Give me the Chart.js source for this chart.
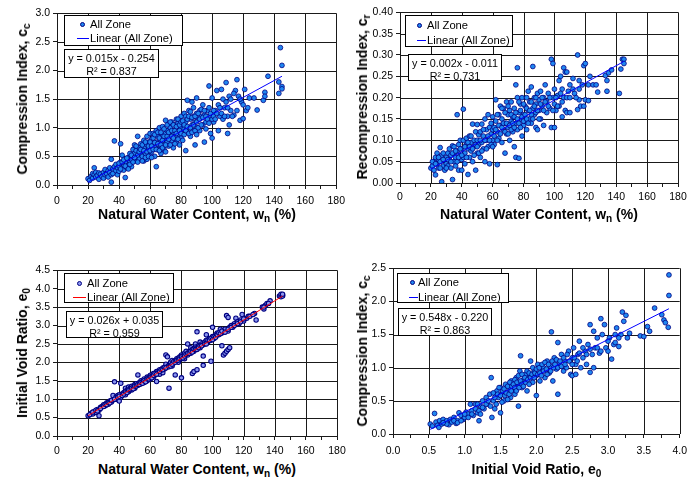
<!DOCTYPE html>
<html>
<head>
<meta charset="utf-8">
<script src="https://cdn.jsdelivr.net/npm/chart.js@4.4.1/dist/chart.umd.min.js"></script>
<style>
  body { margin: 0; background: #fff; }
  #page { position: relative; width: 697px; height: 477px; overflow: hidden; font-family: "Liberation Sans", Arial, sans-serif; }
  canvas { position: absolute; }
  .ttl { position: absolute; font-weight: bold; font-size: 14px; white-space: nowrap; color: #000; }
  .ttl sub { font-size: 0.72em; vertical-align: -0.3em; line-height: 0; }
  .ytl { transform: translate(-50%, -50%) rotate(-90deg); }
  .xtl { transform: translate(-50%, -50%); }
  .box { position: absolute; background: #fff; border: 1px solid #000; font-size: 11.2px; color: #000; box-sizing: border-box; }
  .row { position: absolute; white-space: nowrap; line-height: 12px; }
  .dot { position: absolute; width: 5px; height: 5px; border-radius: 50%; box-sizing: border-box; border: 1px solid #000080; }
  .seg { position: absolute; height: 1px; }
  .eq { text-align: center; line-height: 12.5px; padding-top: 2px; font-size: 10.8px; }
</style>
</head>
<body>
<div id="page"></div>
<script>
// values: [x, y]
const ccVsWn = [
  [20,0.11],[21,0.08],[22,0.15],[23,0.12],[23,0.2],[24,0.18],[24,0.3],[25,0.14],[25,0.22],[26,0.17],[27,0.1],[27,0.21],[28,0.19],[29,0.15],[30,0.22],[30,0.12],
  [31,0.18],[31,0.27],[32,0.2],[33,0.14],[33,0.25],[34,0.22],[34,0.3],[35,0.05],[35,0.45],[35,0.18],[36,0.28],[36,0.2],[37,0.77],[37,0.32],[38,0.25],[38,0.36],[39,0.3],[39,0.18],[40,0.33],[40,0.24],
  [41,0.72],[41,0.4],[42,0.52],[42,0.3],[43,0.35],[43,0.26],[44,0.42],[44,0.13],[45,0.38],[45,0.3],[46,0.48],[46,0.35],[47,0.4],[47,0.55],[48,0.45],[48,0.32],[49,0.5],[49,0.62],[50,0.42],[50,0.55],[50,0.7],
  [51,0.48],[51,0.6],[52,0.85],[52,0.52],[53,0.45],[53,0.65],[54,0.55],[54,0.72],[55,0.5],[55,0.6],[56,0.78],[56,0.42],[57,0.66],[57,0.55],[58,0.7],[58,0.85],[58,0.45],[59,0.62],[59,0.75],[60,0.68],[60,0.9],[60,0.52],
  [61,0.58],[61,0.8],[62,0.72],[62,0.9],[63,0.65],[63,0.5],[64,0.95],[64,0.32],[64,0.75],[65,0.85],[65,0.62],[66,0.7],[66,1.0],[67,0.78],[67,0.55],[68,0.88],[68,1.02],[69,0.72],[69,0.62],[70,1.13],[70,0.9],[70,0.8],
  [71,0.75],[71,0.95],[72,1.05],[72,0.68],[73,0.88],[73,1.0],[74,0.78],[74,1.1],[75,0.92],[75,0.65],[76,1.05],[76,0.85],[77,1.15],[77,0.75],[78,0.95],[78,1.08],[79,0.88],[79,0.7],[80,1.0],[80,1.2],[80,0.82],
  [81,1.05],[81,0.9],[82,1.25],[82,0.98],[83,0.6],[83,1.1],[84,1.48],[84,0.92],[85,1.3],[85,1.0],[86,1.15],[86,0.85],[87,1.45],[87,1.05],[88,1.2],[88,0.95],[89,0.7],[89,1.1],[90,1.52],[90,1.25],[90,1.0],
  [91,1.15],[92,1.3],[92,0.95],[93,1.2],[94,1.4],[94,1.05],[95,0.75],[95,1.22],[96,1.1],[97,1.3],[98,1.73],[98,1.2],[99,0.9],[100,0.82],[100,1.25],[100,1.52],
  [101,1.1],[102,1.3],[103,1.65],[104,0.95],[104,1.4],[105,1.2],[106,1.67],[107,1.5],[107,1.15],[108,1.35],[109,1.79],[109,1.45],[110,0.9],[110,1.2],[111,1.05],[111,1.55],[112,1.3],[114,1.22],[115,1.65],[116,1.84],[116,1.3],[117,1.55],[118,1.13],[119,1.45],[120,1.16],[121,1.67],[122,1.3],[123,1.35],[124,1.52],
  [127,1.52],[129,1.31],[133,1.48],[134,1.62],[134,1.55],[136,1.9],[143,1.6],[143,1.8],[144,2.4],[145,2.09],[145,1.72],[145,1.68],
  [40,0.38],[41,0.28],[42,0.4],[43,0.44],[44,0.33],[45,0.47],[46,0.28],[47,0.36],[48,0.52],[49,0.4],[50,0.48],
  [51,0.68],[52,0.4],[53,0.58],[54,0.62],[55,0.7],[55,0.42],[56,0.6],[57,0.48],[57,0.75],[58,0.58],[59,0.5],[59,0.68],[60,0.6],[60,0.75],
  [61,0.68],[61,0.48],[62,0.62],[62,0.82],[63,0.74],[63,0.88],[64,0.62],[65,0.72],[65,0.92],[66,0.6],[66,0.82],[67,0.7],[67,0.92],[68,0.65],[68,0.78],[69,0.85],[69,0.98],[70,0.7],[70,0.58],
  [71,0.85],[71,1.05],[72,0.8],[72,0.92],[73,0.7],[73,1.1],[74,0.95],[74,0.85],[75,0.82],[75,1.05],[76,0.72],[76,0.95],[77,0.9],[77,1.02],[78,0.8],[78,1.15],[79,0.95],[79,1.05],[80,0.9],[80,1.1],
  [81,1.12],[81,0.78],[82,1.05],[82,0.88],[83,0.95],[83,1.2],[84,1.02],[84,1.15],[85,0.9],[85,1.2],[86,1.0],[86,1.28],[87,0.92],[87,1.18],[88,1.05],[88,1.35],[89,0.95],[89,1.2],[90,1.1],[90,0.88],
  [91,1.25],[91,1.0],[92,1.15],[93,1.05],[93,1.32],[94,1.18],[95,1.3],[96,1.2],[96,0.98],[97,1.15],[98,1.08],[98,1.35],[99,1.25],[100,1.15],[101,1.3],[101,1.2],[102,1.15],[103,1.25],[105,1.35],[106,1.25],[108,1.2],[110,1.35],[112,1.5],[113,1.2],[114,1.6],[118,1.5],[120,1.4]
];
const crVsWn = [
  [20,0.035],[21,0.04],[22,0.05],[22,0.03],[23,0.019],[23,0.06],[24,0.045],[24,0.07],[25,0.055],[25,0.035],[26,0.083],[26,0.05],[27,0.003],[27,0.065],[28,0.04],[28,0.07],[29,0.055],[29,0.03],[30,0.06],[30,0.045],
  [31,0.07],[31,0.04],[32,0.055],[32,0.08],[33,0.035],[33,0.065],[34,0.008],[34,0.087],[35,0.05],[35,0.07],[36,0.06],[36,0.04],[37,0.16],[37,0.075],[38,0.09],[38,0.03],[39,0.065],[39,0.1],[40,0.03],[40,0.08],[40,0.055],
  [41,0.173],[41,0.1],[42,0.07],[42,0.045],[43,0.09],[43,0.105],[44,0.02],[44,0.08],[45,0.06],[45,0.11],[46,0.095],[46,0.075],[47,0.138],[47,0.05],[48,0.1],[48,0.085],[49,0.03],[49,0.12],[50,0.137],[50,0.07],[50,0.1],
  [51,0.09],[51,0.113],[52,0.06],[52,0.12],[53,0.138],[53,0.095],[54,0.08],[54,0.11],[55,0.15],[55,0.05],[56,0.125],[56,0.1],[57,0.16],[57,0.085],[58,0.13],[58,0.045],[59,0.115],[59,0.14],[60,0.1],[60,0.155],[60,0.125],
  [61,0.13],[61,0.09],[62,0.195],[62,0.145],[63,0.043],[63,0.12],[64,0.16],[64,0.105],[65,0.18],[65,0.135],[66,0.15],[66,0.095],[67,0.175],[67,0.125],[68,0.07],[68,0.14],[69,0.19],[69,0.115],[70,0.16],[70,0.13],
  [71,0.1],[71,0.17],[72,0.145],[72,0.19],[73,0.12],[73,0.155],[74,0.085],[74,0.175],[75,0.06],[75,0.23],[75,0.14],[76,0.27],[76,0.2],[76,0.125],[77,0.058],[77,0.165],[78,0.185],[78,0.15],[79,0.11],[79,0.2],[80,0.16],[80,0.135],
  [81,0.18],[81,0.145],[82,0.2],[82,0.125],[83,0.17],[83,0.215],[84,0.15],[84,0.19],[85,0.14],[85,0.225],[86,0.273],[86,0.175],[87,0.16],[87,0.2],[88,0.13],[88,0.185],[89,0.125],[89,0.21],[90,0.17],[90,0.195],
  [91,0.15],[91,0.215],[92,0.18],[93,0.135],[93,0.2],[94,0.23],[95,0.165],[95,0.19],[96,0.21],[97,0.175],[98,0.29],[98,0.13],[99,0.28],[99,0.2],[100,0.13],[100,0.185],[100,0.22],
  [101,0.17],[102,0.205],[103,0.24],[103,0.18],[104,0.25],[105,0.155],[105,0.22],[106,0.27],[106,0.2],[107,0.26],[107,0.17],[108,0.26],[108,0.165],[109,0.215],[110,0.165],[110,0.23],[112,0.245],[113,0.21],[115,0.3],[115,0.172],[116,0.24],[116,0.195],[117,0.18],[118,0.23],[119,0.275],[119,0.18],[120,0.28],[120,0.195],
  [122,0.193],[122,0.23],[123,0.25],[125,0.23],[127,0.23],[128,0.213],[133,0.252],[134,0.24],[134,0.215],[135,0.258],[137,0.265],[142,0.21],[143,0.267],[144,0.29],[145,0.29],[145,0.28],
  [41,0.06],[42,0.085],[43,0.06],[44,0.095],[45,0.085],[46,0.11],[47,0.08],[48,0.065],[49,0.09],[50,0.085],[51,0.07],[52,0.1],[53,0.075],[54,0.125],[55,0.1],[56,0.08],[57,0.11],[58,0.1],[59,0.09],[60,0.085],
  [61,0.11],[62,0.125],[63,0.1],[63,0.16],[64,0.135],[65,0.115],[66,0.13],[66,0.175],[67,0.14],[68,0.12],[68,0.165],[69,0.14],[70,0.115],[70,0.18],[71,0.135],[72,0.125],[72,0.16],[73,0.14],[74,0.155],[74,0.13],[75,0.165],[76,0.15],[77,0.14],[77,0.19],[78,0.13],[78,0.17],[79,0.155],[80,0.145],[80,0.185],
  [81,0.16],[82,0.175],[82,0.15],[83,0.14],[84,0.17],[85,0.16],[85,0.19],[86,0.15],[87,0.18],[88,0.165],[88,0.2],[89,0.17],[90,0.15],[91,0.185],[92,0.2],[93,0.17],[94,0.19],[96,0.18],[97,0.2],[99,0.17],
  [101,0.2],[102,0.18],[104,0.21],[105,0.19],[108,0.2],[110,0.2],[112,0.22],[114,0.2],[116,0.22],
  [21,0.05],[23,0.045],[25,0.06],[26,0.035],[28,0.055],[30,0.035],[31,0.055],[33,0.05],[34,0.07],[35,0.085],[36,0.075],[37,0.05],[38,0.06],[39,0.08],[40,0.065]
];
const e0VsWn = [
  [20,0.55],[22,0.62],[23,0.6],[24,0.66],[25,0.64],[26,0.72],[27,0.55],[27,0.7],[28,0.78],[29,0.8],[30,0.85],[31,0.82],[32,0.9],[33,0.86],[34,0.95],[35,0.92],[36,1.1],[36,0.98],[37,1.47],[38,1.0],[38,1.06],[39,1.1],[40,0.95],[40,1.12],
  [41,1.43],[41,1.05],[42,1.15],[43,1.18],[44,1.3],[44,1.12],[45,1.25],[46,1.2],[46,1.33],[47,1.3],[48,1.25],[48,1.35],[49,1.32],[50,1.4],[50,1.3],
  [51,1.42],[52,1.38],[52,1.66],[53,1.45],[54,1.5],[54,1.42],[55,1.48],[56,1.55],[56,1.45],[57,1.52],[58,1.6],[58,1.5],[59,1.58],[60,1.65],[60,1.55],
  [61,1.62],[62,1.7],[62,1.6],[63,1.66],[64,1.48],[64,1.75],[65,1.7],[65,1.76],[66,1.68],[66,1.8],[67,1.78],[68,1.85],[68,1.72],[69,1.82],[70,1.95],[70,2.2],
  [71,1.88],[71,2.15],[72,1.3],[72,1.92],[73,1.95],[73,2.0],[74,1.9],[74,2.05],[75,1.98],[76,1.66],[76,2.05],[77,2.1],[78,2.0],[78,2.12],[79,2.15],[80,1.58],[80,2.2],[80,2.1],
  [81,2.18],[82,2.25],[82,2.1],[83,2.3],[84,2.2],[84,2.5],[85,2.3],[86,2.25],[86,2.4],[87,1.7],[87,2.35],[88,1.75],[88,2.3],[89,2.5],[89,2.42],[90,1.8],[90,2.4],[90,2.83],
  [91,2.45],[92,2.4],[92,2.55],[93,2.5],[94,1.92],[94,2.17],[94,2.48],[95,2.55],[96,2.6],[96,2.75],[97,2.55],[98,2.65],[99,2.03],[99,2.6],[100,2.7],[100,2.95],
  [101,2.65],[102,2.75],[103,2.8],[104,2.75],[105,2.9],[106,2.45],[106,2.8],[107,2.2],[107,2.85],[108,2.25],[108,2.9],[109,2.3],[109,3.27],[110,2.35],[110,3.22],[110,2.85],
  [111,2.4],[111,2.95],[112,3.0],[113,2.95],[114,3.05],[115,3.2],[116,3.1],[117,3.05],[118,3.15],[119,3.3],[120,3.12],[122,3.2],[123,3.25],[127,3.33],[128,3.15],
  [132,3.5],[133,3.45],[134,3.55],[135,3.6],[137,3.67],[143,3.8],[144,3.78],[144,3.85],[145,3.82],[145,3.8],
  [21,0.58],[23,0.65],[25,0.7],[26,0.68],[28,0.75],[30,0.8],[31,0.86],[32,0.85],[33,0.9],[34,0.9],[35,0.97],[37,1.0],[39,1.05],[40,1.08],[42,1.1],[43,1.14],[44,1.2],[45,1.18],[46,1.25],[47,1.26],[48,1.3],[49,1.28],[50,1.36],
  [51,1.36],[52,1.4],[53,1.4],[54,1.45],[55,1.43],[56,1.5],[57,1.47],[58,1.55],[59,1.55],[60,1.6],[61,1.58],[62,1.65],[63,1.7],[64,1.68],[66,1.75],[67,1.8],[68,1.8],[69,1.86],[70,1.85],
  [72,1.88],[73,1.9],[74,1.95],[75,2.02],[76,2.0],[77,2.05],[78,2.06],[79,2.1],[80,2.15],[81,2.12],[82,2.17],[83,2.22],[84,2.25],[85,2.25],[86,2.3],[87,2.28],[88,2.36],[89,2.35],[90,2.35],
  [91,2.4],[92,2.45],[93,2.45],[95,2.5],[96,2.5],[97,2.6],[98,2.6],[99,2.65],[100,2.62],[101,2.7],[102,2.68],[103,2.75],[104,2.8],[105,2.78],[106,2.85],[108,2.82],[110,2.9],
  [112,2.95],[114,3.0],[116,3.05],[118,3.1],[120,3.18],[124,3.25],[126,3.3],[133,3.5],[136,3.6],[145,3.85]
];
const ccVsE0 = [
  [0.52,0.15],[0.55,0.12],[0.58,0.31],[0.6,0.18],[0.62,0.13],[0.64,0.1],[0.65,0.2],[0.68,0.15],[0.7,0.22],[0.72,0.17],[0.75,0.2],[0.78,0.14],[0.8,0.22],[0.82,0.18],[0.85,0.25],[0.88,0.16],[0.9,0.2],[0.92,0.32],[0.95,0.28],[0.98,0.22],
  [1.0,0.25],[1.02,0.33],[1.05,0.3],[1.08,0.45],[1.1,0.35],[1.12,0.28],[1.15,0.38],[1.18,0.32],[1.2,0.2],[1.22,0.42],[1.25,0.5],[1.27,0.38],[1.3,0.55],[1.32,0.45],[1.35,0.6],[1.37,0.85],[1.38,0.25],[1.4,0.5],[1.42,0.38],[1.45,0.65],[1.47,0.55],
  [1.5,0.32],[1.5,0.7],[1.52,0.6],[1.55,0.5],[1.57,0.75],[1.6,0.62],[1.62,0.7],[1.64,0.55],[1.65,0.8],[1.68,0.68],[1.7,0.6],[1.72,0.85],[1.75,0.42],[1.75,0.75],[1.77,0.95],[1.78,1.18],[1.8,0.7],[1.82,0.82],[1.85,0.9],[1.87,0.65],[1.9,0.85],[1.92,1.1],[1.95,0.78],[1.97,0.95],
  [2.0,0.58],[2.0,0.88],[2.02,1.05],[2.05,0.8],[2.08,0.95],[2.1,1.0],[2.12,0.85],[2.15,1.1],[2.18,0.92],[2.2,1.02],[2.21,1.54],[2.23,0.8],[2.25,1.15],[2.28,0.98],[2.3,0.6],[2.3,1.38],[2.32,1.05],[2.35,1.2],[2.38,0.95],[2.4,1.1],[2.42,1.0],[2.45,1.25],[2.48,0.9],
  [2.5,0.88],[2.5,1.15],[2.52,1.3],[2.55,0.9],[2.55,1.05],[2.58,1.2],[2.6,1.4],[2.62,1.0],[2.65,1.15],[2.68,1.25],[2.7,1.05],[2.72,1.35],[2.75,0.93],[2.75,1.65],[2.78,1.2],[2.8,1.0],[2.8,1.55],[2.82,1.3],[2.85,1.45],[2.88,1.22],[2.9,1.74],[2.92,1.5],[2.95,1.65],[2.97,1.3],
  [3.0,1.25],[3.02,1.45],[3.05,1.13],[3.08,1.35],[3.1,1.38],[3.12,1.6],[3.15,1.32],[3.18,1.5],[3.2,1.84],[3.22,1.7],[3.25,1.79],[3.27,1.45],[3.3,1.52],[3.45,1.48],[3.5,1.47],[3.55,1.62],[3.58,1.55],[3.65,1.9],[3.75,1.8],[3.78,1.72],[3.8,1.68],[3.84,1.61],[3.85,2.09],[3.85,2.4],
  [1.3,0.45],[1.33,0.5],[1.36,0.42],[1.4,0.62],[1.42,0.55],[1.44,0.45],[1.46,0.6],[1.48,0.7],[1.5,0.58],[1.52,0.48],[1.53,0.65],[1.55,0.68],[1.56,0.58],[1.58,0.62],[1.6,0.72],[1.6,0.52],[1.62,0.6],[1.63,0.78],[1.65,0.65],[1.66,0.72],
  [1.68,0.75],[1.7,0.7],[1.7,0.82],[1.72,0.65],[1.73,0.78],[1.75,0.88],[1.76,0.7],[1.78,0.8],[1.8,0.9],[1.8,0.75],[1.82,0.72],[1.84,0.85],[1.85,0.78],[1.87,0.95],[1.88,0.82],[1.9,0.75],[1.9,0.92],[1.92,0.85],[1.94,0.9],[1.95,1.0],
  [1.97,0.85],[1.98,0.92],[2.0,0.98],[2.02,0.9],[2.04,1.0],[2.05,0.92],[2.07,0.88],[2.08,1.05],[2.1,0.95],[2.12,1.08],[2.14,0.98],[2.15,0.9],[2.17,1.05],[2.2,0.95],[2.22,1.1],[2.24,1.0],[2.26,1.05],[2.28,1.12],[2.3,1.0],
  [2.33,1.1],[2.35,1.02],[2.38,1.15],[2.4,1.05],[2.43,1.2],[2.46,1.1],[2.5,1.05],[2.53,1.15],[2.57,1.1],[2.6,1.22],[2.65,1.3],[2.7,1.2],[2.75,1.28],[2.85,1.3],[2.9,1.25],[3.0,1.4],[3.1,1.5],[3.15,1.45],
  [1.0,0.3],[1.05,0.25],[1.1,0.3],[1.15,0.45],[1.2,0.35],[1.25,0.4],[1.18,0.45],[1.22,0.3],[0.85,0.2],[0.9,0.17],[0.95,0.2],[0.75,0.15],[0.7,0.17]
];
// trend line end points as drawn in the picture
const trendCcWn = [[20,0.05],[145,1.9]];
const trendCrWn = [[20,0.033],[145,0.285]];
const trendE0Wn = [[20,0.55],[145,3.8]];
const trendCcE0 = [[0.52,0.07],[3.85,1.89]];
// tick settings
const wnTicks = { min: 0, max: 180, step: 10, labelEvery: 2, dec: 0 };
const e0Ticks = { min: 0, max: 4, step: 0.25, labelEvery: 2, dec: 1 };

const page = document.getElementById('page');
const FONT = '"Liberation Sans", Arial, sans-serif';
const GRID = '#1a1a1a';

// major grid + frame, drawn from the scales' own ticks
const plotGrid = {
  id: 'plotGrid',
  beforeDatasetsDraw(chart, args, opts) {
    const { ctx, chartArea: a, scales } = chart;
    ctx.save();
    ctx.strokeStyle = GRID;
    ctx.lineWidth = 1;
    ctx.beginPath();
    scales.x.ticks.forEach((t, i) => {
      if (i % opts.every) return;
      const px = Math.round(scales.x.getPixelForValue(t.value)) + 0.5;
      ctx.moveTo(px, a.top); ctx.lineTo(px, a.bottom);
    });
    scales.y.ticks.forEach(t => {
      const py = Math.round(scales.y.getPixelForValue(t.value)) + 0.5;
      ctx.moveTo(a.left, py); ctx.lineTo(a.right, py);
    });
    ctx.stroke();
    ctx.restore();
  }
};

function addHtml(cls, style, html) {
  const d = document.createElement('div');
  d.className = cls;
  Object.assign(d.style, style);
  d.innerHTML = html;
  page.appendChild(d);
  return d;
}

function makePanel(p) {
  const padL = 48, padT = 8, padR = 14, padB = 24;
  const w = p.area.r - p.area.l + padL + padR;
  const h = p.area.b - p.area.t + padT + padB;
  const cv = document.createElement('canvas');
  cv.width = w; cv.height = h;
  cv.style.left = (p.area.l - padL) + 'px';
  cv.style.top = (p.area.t - padT) + 'px';
  page.appendChild(cv);

  new Chart(cv, {
    type: 'scatter',
    plugins: [plotGrid],
    data: {
      datasets: [
        {
          type: 'line',
          data: p.trend.map(d => ({ x: d[0], y: d[1] })),
          borderColor: p.lineColor,
          borderWidth: 1,
          pointRadius: 0,
          fill: false
        },
        {
          data: p.points.map(d => ({ x: d[0], y: d[1] })),
          backgroundColor: p.fill,
          borderColor: '#000080',
          borderWidth: p.ring,
          pointRadius: p.radius
        }
      ]
    },
    options: {
      responsive: false,
      animation: false,
      devicePixelRatio: 1,
      layout: { padding: { left: 0, top: padT, right: padR, bottom: 0 } },
      plugins: { legend: { display: false }, tooltip: { enabled: false }, plotGrid: { every: p.xt.labelEvery } },
      scales: {
        x: {
          type: 'linear',
          min: p.xt.min, max: p.xt.max,
          afterFit: s => { s.height = padB; },
          afterBuildTicks: s => {
            const t = [];
            const n = Math.round((p.xt.max - p.xt.min) / p.xt.step);
            for (let i = 0; i <= n; i++) t.push({ value: p.xt.min + i * p.xt.step });
            s.ticks = t;
          },
          ticks: {
            autoSkip: false, maxRotation: 0, padding: p.xPad, color: '#000',
            font: { family: FONT, size: 10.5 },
            callback: (v, i) => i % p.xt.labelEvery === 0 ? Number(v).toFixed(p.xt.dec) : ''
          },
          grid: { drawOnChartArea: false, tickColor: GRID, tickLength: 4 },
          border: { color: GRID, width: 1 }
        },
        y: {
          min: p.yt.min, max: p.yt.max,
          afterFit: s => { s.width = padL; },
          ticks: {
            stepSize: p.yt.step, padding: 3, color: '#000',
            font: { family: FONT, size: 10.5 },
            callback: v => Number(v).toFixed(p.yt.dec)
          },
          grid: { drawOnChartArea: false, tickColor: GRID, tickLength: 4 },
          border: { color: GRID, width: 1 }
        }
      }
    }
  });

  // axis titles
  addHtml('ttl ytl', { left: p.yTitleX + 'px', top: ((p.area.t + p.area.b) / 2) + 'px' }, p.yTitle);
  addHtml('ttl xtl', { left: ((p.area.l + p.area.r) / 2) + 'px', top: p.xTitleY + 'px' }, p.xTitle);

  // legend box
  const lg = p.legend;
  const box = addHtml('box', { left: lg.l + 'px', top: lg.t + 'px', width: lg.w + 'px', height: lg.h + 'px' }, '');
  const dot = document.createElement('div');
  dot.className = 'dot';
  Object.assign(dot.style, { left: (lg.dotX - 2.5) + 'px', top: (lg.r1 - 2.5) + 'px', background: p.fill });
  box.appendChild(dot);
  const seg = document.createElement('div');
  seg.className = 'seg';
  Object.assign(seg.style, { left: lg.segX + 'px', width: lg.segW + 'px', top: lg.r2 + 'px', background: p.lineColor });
  box.appendChild(seg);
  const t1 = document.createElement('div');
  t1.className = 'row';
  Object.assign(t1.style, { left: lg.textX + 'px', top: (lg.r1 - 6) + 'px' });
  t1.textContent = 'All Zone';
  box.appendChild(t1);
  const t2 = document.createElement('div');
  t2.className = 'row';
  Object.assign(t2.style, { left: lg.textX + 'px', top: (lg.r2 - 6) + 'px' });
  t2.textContent = 'Linear (All Zone)';
  box.appendChild(t2);

  // equation box
  const e = p.eqBox;
  addHtml('box eq', { left: e.l + 'px', top: e.t + 'px', width: e.w + 'px', height: e.h + 'px' },
    p.equation + '<br>' + p.r2);
}

makePanel({
  area: { l: 57, t: 12, r: 337, b: 185 },
  points: ccVsWn, trend: trendCcWn, radius: 2.4, ring: 0.8,
  fill: '#1f86f0', lineColor: '#0000ff',
  xt: wnTicks, yt: { min: 0, max: 3, step: 0.5, dec: 1 }, xPad: 6,
  yTitle: 'Compression Index, c<sub>c</sub>', yTitleX: 22,
  xTitle: 'Natural Water Content, w<sub>n</sub> (%)', xTitleY: 214,
  legend: { l: 64, t: 15, w: 119, h: 31, dotX: 17, segX: 12, segW: 12, textX: 25, r1: 8, r2: 22 },
  eqBox: { l: 64, t: 49, w: 95, h: 29 },
  equation: 'y = 0.015x - 0.254', r2: 'R² = 0.837'
});

makePanel({
  area: { l: 400, t: 11, r: 678, b: 183 },
  points: crVsWn, trend: trendCrWn, radius: 2.4, ring: 0.8,
  fill: '#1f86f0', lineColor: '#0000ff',
  xt: wnTicks, yt: { min: 0, max: 0.4, step: 0.05, dec: 2 }, xPad: 4,
  yTitle: 'Recompression Index, c<sub>r</sub>', yTitleX: 362,
  xTitle: 'Natural Water Content, w<sub>n</sub> (%)', xTitleY: 214,
  legend: { l: 405, t: 15, w: 108, h: 32, dotX: 13, segX: 11, segW: 9, textX: 21, r1: 9, r2: 24 },
  eqBox: { l: 408, t: 54, w: 94, h: 27 },
  equation: 'y = 0.002x - 0.011', r2: 'R² = 0.731'
});

makePanel({
  area: { l: 57, t: 269, r: 337, b: 436 },
  points: e0VsWn, trend: trendE0Wn, radius: 2.2, ring: 1.1,
  fill: '#8a96f0', lineColor: '#ff0000',
  xt: wnTicks, yt: { min: 0, max: 4.5, step: 0.5, dec: 1 }, xPad: 5,
  yTitle: 'Initial Void Ratio, e<sub>0</sub>', yTitleX: 22,
  xTitle: 'Natural Water Content, w<sub>n</sub> (%)', xTitleY: 469,
  legend: { l: 64, t: 273, w: 110, h: 30, dotX: 14, segX: 8, segW: 13, textX: 22, r1: 9, r2: 23 },
  eqBox: { l: 66, t: 311, w: 97, h: 27 },
  equation: 'y = 0.026x + 0.035', r2: 'R² = 0.959'
});

makePanel({
  area: { l: 393, t: 267, r: 680, b: 434 },
  points: ccVsE0, trend: trendCcE0, radius: 2.4, ring: 0.8,
  fill: '#1f86f0', lineColor: '#0000ff',
  xt: e0Ticks, yt: { min: 0, max: 2.5, step: 0.5, dec: 1 }, xPad: 7,
  yTitle: 'Compression Index, c<sub>c</sub>', yTitleX: 362,
  xTitle: 'Initial Void Ratio, e<sub>0</sub>', xTitleY: 469,
  legend: { l: 397, t: 273, w: 112, h: 30, dotX: 14, segX: 11, segW: 9, textX: 20, r1: 8, r2: 23 },
  eqBox: { l: 398, t: 308, w: 94, h: 28 },
  equation: 'y = 0.548x - 0.220', r2: 'R² = 0.863'
});
</script>
</body>
</html>
